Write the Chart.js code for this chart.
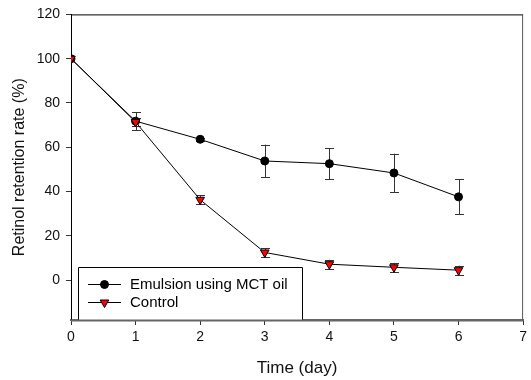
<!DOCTYPE html>
<html>
<head>
<meta charset="utf-8">
<script src="https://cdn.jsdelivr.net/npm/chart.js@4/dist/chart.umd.min.js"></script>
<style>
html,body{margin:0;padding:0;background:#fff;}
#wrap{width:531px;height:380px;position:relative;}
</style>
</head>
<body>
<div id="wrap"><canvas id="c" width="531" height="380"></canvas></div>
<script>
const days = [0, 1, 2, 3, 4, 5, 6];
const emulsion = [100, 71.8, 63.6, 53.8, 52.6, 48.4, 37.6];
const emulsionErr = [0, 4, 0.8, 7.4, 7.0, 8.7, 7.9];
const control = [100, 71.4, 36.3, 12.5, 7.2, 5.8, 4.5];
const controlErr = [0, 2, 2, 2, 2, 2, 2];
const yTicks = [0, 20, 40, 60, 80, 100, 120];
const xTicks = [0, 1, 2, 3, 4, 5, 6, 7];
const seriesNames = ['Emulsion using MCT oil', 'Control'];

const FONT = "'Liberation Sans', Arial, sans-serif";

const errorBars = {
  id: 'errorBars',
  beforeDatasetsDraw(chart) {
    const ctx = chart.ctx;
    const ys = chart.scales.y;
    ctx.save();
    ctx.strokeStyle = '#333';
    ctx.lineWidth = 1;
    chart.data.datasets.forEach((ds, di) => {
      const meta = chart.getDatasetMeta(di);
      ds.errors.forEach((e, i) => {
        if (!e) return;
        const pt = meta.data[i];
        const v = ds.data[i].y;
        const x = Math.round(pt.x) + 0.5;
        const yt = ys.getPixelForValue(v + e);
        const yb = ys.getPixelForValue(v - e);
        ctx.beginPath();
        ctx.moveTo(x, yt); ctx.lineTo(x, yb);
        ctx.moveTo(x - 4.5, Math.round(yt) + 0.5); ctx.lineTo(x + 4.5, Math.round(yt) + 0.5);
        ctx.moveTo(x - 4.5, Math.round(yb) + 0.5); ctx.lineTo(x + 4.5, Math.round(yb) + 0.5);
        ctx.stroke();
      });
    });
    ctx.restore();
  }
};

const frame = {
  id: 'frame',
  afterDraw(chart) {
    const ctx = chart.ctx;
    const a = chart.chartArea;
    ctx.save();
    ctx.strokeStyle = '#000';
    ctx.lineWidth = 1;
    ctx.beginPath();
    ctx.moveTo(a.left, a.top + 0.5);
    ctx.lineTo(a.right, a.top + 0.5);
    ctx.stroke();
    ctx.strokeStyle = '#555';
    ctx.beginPath();
    ctx.moveTo(a.right - 0.5, a.top);
    ctx.lineTo(a.right - 0.5, a.bottom);
    ctx.stroke();

    const lx = 78, ly = 267, lw = 224, lh = a.bottom - 267;
    ctx.fillStyle = '#fff';
    ctx.fillRect(lx, ly, lw, lh);
    ctx.strokeStyle = '#000';
    ctx.beginPath();
    ctx.moveTo(lx + 0.5, a.bottom);
    ctx.lineTo(lx + 0.5, ly + 0.5);
    ctx.lineTo(lx + lw + 0.5, ly + 0.5);
    ctx.lineTo(lx + lw + 0.5, a.bottom);
    ctx.stroke();
    ctx.strokeStyle = '#666';
    ctx.lineWidth = 2;
    ctx.beginPath();
    ctx.moveTo(a.left, a.bottom + 0.5);
    ctx.lineTo(a.right, a.bottom + 0.5);
    ctx.stroke();

    const rows = [284, 302];
    chart.data.datasets.forEach((ds, i) => {
      const y = rows[i] + 0.5;
      ctx.strokeStyle = '#000';
      ctx.lineWidth = 1;
      ctx.beginPath();
      ctx.moveTo(88, y);
      ctx.lineTo(121, y);
      ctx.stroke();
      ctx.fillStyle = ds.pointBackgroundColor;
      ctx.strokeStyle = '#000';
      Chart.helpers.drawPoint(ctx, {
        pointStyle: ds.pointStyle,
        rotation: ds.pointRotation || 0,
        radius: ds.pointRadius,
        borderWidth: 1
      }, 104.5, y);
      ctx.fillStyle = '#000';
      ctx.font = '15px ' + FONT;
      ctx.textBaseline = 'middle';
      ctx.textAlign = 'left';
      ctx.fillText(ds.label, 130, rows[i] + 1);
    });
    ctx.restore();
  }
};

new Chart(document.getElementById('c'), {
  type: 'line',
  data: {
    datasets: [
      {
        label: seriesNames[0],
        data: days.map((d, i) => ({x: d, y: emulsion[i]})),
        errors: emulsionErr,
        borderColor: '#000',
        borderWidth: 1,
        pointStyle: 'circle',
        pointRadius: 4,
        pointBackgroundColor: '#000',
        pointBorderColor: '#000',
        pointBorderWidth: 1,
        order: 2
      },
      {
        label: seriesNames[1],
        data: days.map((d, i) => ({x: d, y: control[i]})),
        errors: controlErr,
        borderColor: '#000',
        borderWidth: 1,
        pointStyle: 'triangle',
        pointRotation: 180,
        pointRadius: 5,
        pointBackgroundColor: '#ff0000',
        pointBorderColor: '#000',
        pointBorderWidth: 1,
        order: 1
      }
    ]
  },
  options: {
    responsive: false,
    animation: false,
    layout: {padding: {top: 13, right: 4, left: 0, bottom: 0}},
    plugins: {legend: {display: false}, tooltip: {enabled: false}},
    elements: {line: {tension: 0}},
    scales: {
      x: {
        type: 'linear',
        min: 0, max: 7,
        afterBuildTicks: s => { s.ticks = xTicks.map(v => ({value: v})); },
        afterFit: s => { s.height = 60; },
        grid: {display: true, drawOnChartArea: false, drawTicks: true, tickLength: 5, color: '#333'},
        border: {display: true, color: '#666', width: 2},
        ticks: {color: '#111', font: {family: FONT, size: 14}, padding: 4, maxRotation: 0},
        title: {display: true, text: 'Time (day)', color: '#111', font: {family: FONT, size: 17}, padding: {top: 0, bottom: 1}}
      },
      y: {
        type: 'linear',
        min: -18, max: 120,
        afterBuildTicks: s => { s.ticks = yTicks.map(v => ({value: v})); },
        afterFit: s => { s.width = 71; },
        grid: {display: true, drawOnChartArea: false, drawTicks: true, tickLength: 5, color: '#333'},
        border: {display: true, color: '#000', width: 1},
        ticks: {color: '#111', font: {family: FONT, size: 14}, padding: 6},
        title: {display: true, text: 'Retinol retention rate (%)', color: '#111', font: {family: FONT, size: 16}, padding: {top: 10, bottom: 0}}
      }
    }
  },
  plugins: [errorBars, frame]
});
</script>
</body>
</html>
